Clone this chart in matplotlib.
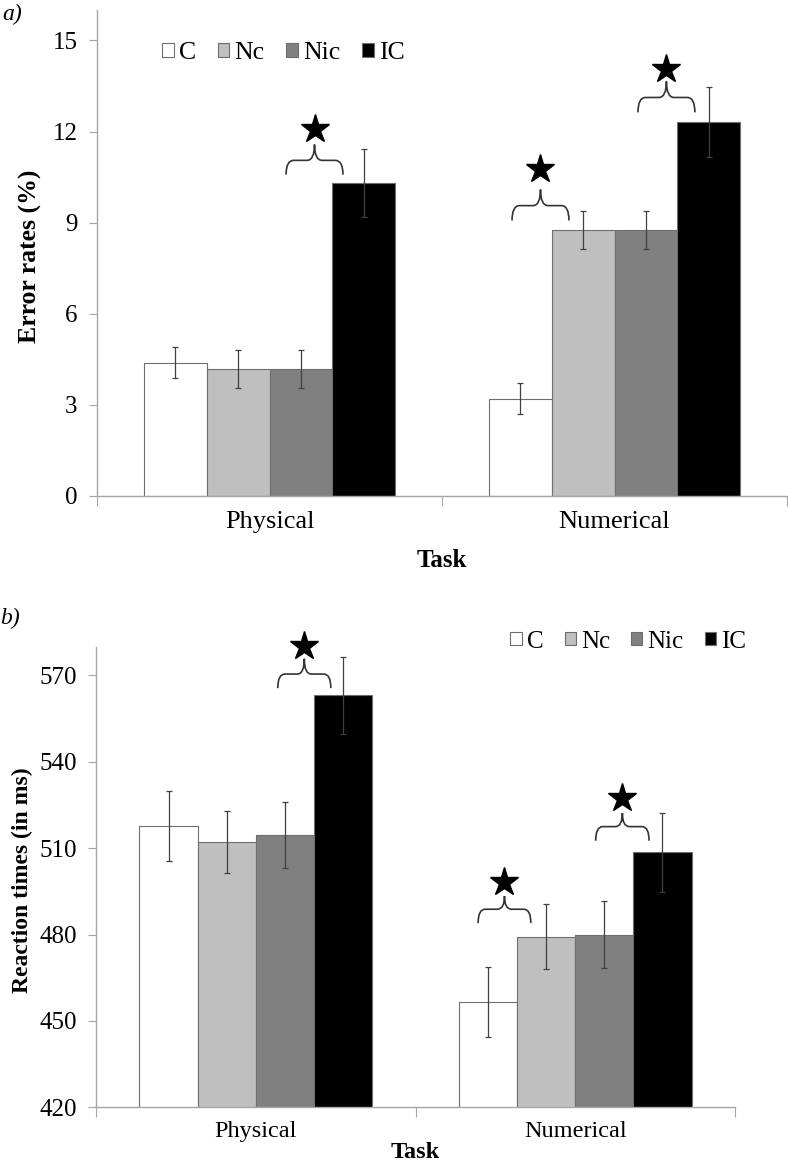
import matplotlib
matplotlib.use("Agg")
import matplotlib.pyplot as plt
from matplotlib.path import Path
from matplotlib.patches import PathPatch

plt.rcParams['font.family'] = ['Liberation Serif', 'DejaVu Serif']

#datos
tareas = ["Physical", "Numerical"]
condiciones = ["C", "Nc", "Nic", "IC"]
colores = ["white", "#bfbfbf", "#808080", "black"]

#a) tasas de error (%)
error_media = {"C": [4.39, 3.20], "Nc": [4.18, 8.76], "Nic": [4.18, 8.76], "IC": [10.31, 12.31]}
error_se = {"C": [0.50, 0.51], "Nc": [0.62, 0.63], "Nic": [0.62, 0.63], "IC": [1.13, 1.15]}

#b) tiempos de reaccion (ms)
rt_media = {"C": [517.7, 456.5], "Nc": [512.3, 479.3], "Nic": [514.6, 480.0], "IC": [563.1, 508.6]}
rt_se = {"C": [12.1, 12.2], "Nc": [10.8, 11.2], "Nic": [11.5, 11.7], "IC": [13.3, 13.8]}

#llaves con estrella: (x_izq, x_der, y_base, y_linea, y_punta, y_estrella)
llaves_a = [(0.048, 0.213, 10.58, 11.05, 11.57, 12.07),
            (0.703, 0.868, 9.07, 9.56, 10.09, 10.75),
            (1.068, 1.233, 12.63, 13.12, 13.65, 14.05)]
llaves_b = [(0.069, 0.235, 565.6, 570.5, 575.8, 580.1),
            (0.696, 0.861, 484.0, 488.8, 493.4, 498.4),
            (1.064, 1.231, 512.6, 517.5, 522.2, 527.4)]

ANCHO = 0.182
GRIS = "#a6a6a6"


def llave(ax, x0, x1, yb, yh, yt):
    #llave horizontal con la punta hacia arriba
    xm = (x0 + x1) / 2
    r = 0.022
    verts = [(x0, yb), (x0, yh), (x0 + r, yh),
             (xm - r, yh), (xm, yh), (xm, yt),
             (xm, yh), (xm + r, yh),
             (x1 - r, yh), (x1, yh), (x1, yb)]
    codes = [Path.MOVETO, Path.CURVE3, Path.CURVE3,
             Path.LINETO, Path.CURVE3, Path.CURVE3,
             Path.CURVE3, Path.CURVE3,
             Path.LINETO, Path.CURVE3, Path.CURVE3]
    ax.add_patch(PathPatch(Path(verts, codes), fill=False, lw=1.2,
                           edgecolor="#333333", clip_on=False))


def panel(ax, medias, errores, llaves, ylim, yticks, fs_cat, pad_cat):
    for i, cond in enumerate(condiciones):
        xs = [k + (i - 1.5) * ANCHO for k in range(len(tareas))]
        ax.bar(xs, medias[cond], width=ANCHO, color=colores[i],
               edgecolor="#6e6e6e", linewidth=0.8, label=cond, zorder=2)
        ax.errorbar(xs, medias[cond], yerr=errores[cond], fmt="none",
                    ecolor="#404040", elinewidth=0.9, capsize=2.5,
                    capthick=0.9, zorder=3)
    for (x0, x1, yb, yh, yt, ys) in llaves:
        llave(ax, x0, x1, yb, yh, yt)
        ax.plot((x0 + x1) / 2, ys, marker="*", color="black",
                markersize=21, clip_on=False, zorder=4)
    ax.set_xlim(-0.5, 1.5)
    ax.set_ylim(*ylim)
    ax.set_yticks(yticks)
    ax.set_xticks([-0.5, 0.5, 1.5])
    ax.set_xticklabels([])
    ax.set_xticks([0, 1], minor=True)
    ax.set_xticklabels(tareas, minor=True, fontsize=fs_cat)
    ax.tick_params(axis="x", which="minor", length=0, pad=pad_cat)
    ax.tick_params(axis="x", which="major", length=7, color=GRIS)
    ax.tick_params(axis="y", length=6, color=GRIS, labelsize=18, pad=8)
    for lado in ["top", "right"]:
        ax.spines[lado].set_visible(False)
    for lado in ["left", "bottom"]:
        ax.spines[lado].set_color(GRIS)
        ax.spines[lado].set_linewidth(1.0)


fig = plt.figure(figsize=(7.88, 11.64), dpi=100)

#panel a
ax1 = fig.add_axes([97 / 788, 1 - 496 / 1164, 690 / 788, 486 / 1164])
panel(ax1, error_media, error_se, llaves_a, (0, 16), [0, 3, 6, 9, 12, 15], 19, 11)
ax1.legend(loc="center", bbox_to_anchor=(0.27, 0.9115), ncol=4, frameon=False,
           fontsize=18.5, handlelength=0.45, handleheight=0.45, handletextpad=0.2,
           columnspacing=0.85, borderpad=0)
fig.text(30 / 788, 1 - 256 / 1164, "Error rates (%)", rotation=90, fontsize=18.5,
         fontweight="bold", ha="center", va="center")
fig.text(442 / 788, 1 - 560 / 1164, "Task", fontsize=18, fontweight="bold",
         ha="center", va="center")
fig.text(2 / 788, 1 - 14 / 1164, "a)", fontsize=17, style="italic", va="center")

#panel b
ax2 = fig.add_axes([96 / 788, 1 - 1107.3 / 1164, 639 / 788, 460.6 / 1164])
panel(ax2, rt_media, rt_se, llaves_b, (420, 580), [420, 450, 480, 510, 540, 570], 17.5, 10)
ax2.legend(loc="center", bbox_to_anchor=(0.833, 1.011), ncol=4, frameon=False,
           fontsize=18, handlelength=0.45, handleheight=0.45, handletextpad=0.2,
           columnspacing=0.85, borderpad=0)
fig.text(22 / 788, 1 - 880 / 1164, "Reaction times (in ms)", rotation=90, fontsize=17,
         fontweight="bold", ha="center", va="center")
fig.text(415 / 788, 1 - 1153 / 1164, "Task", fontsize=17.5, fontweight="bold",
         ha="center", va="center")
fig.text(0, 1 - 618 / 1164, "b)", fontsize=17, style="italic", va="center")

fig.savefig("out.png", dpi=100)
